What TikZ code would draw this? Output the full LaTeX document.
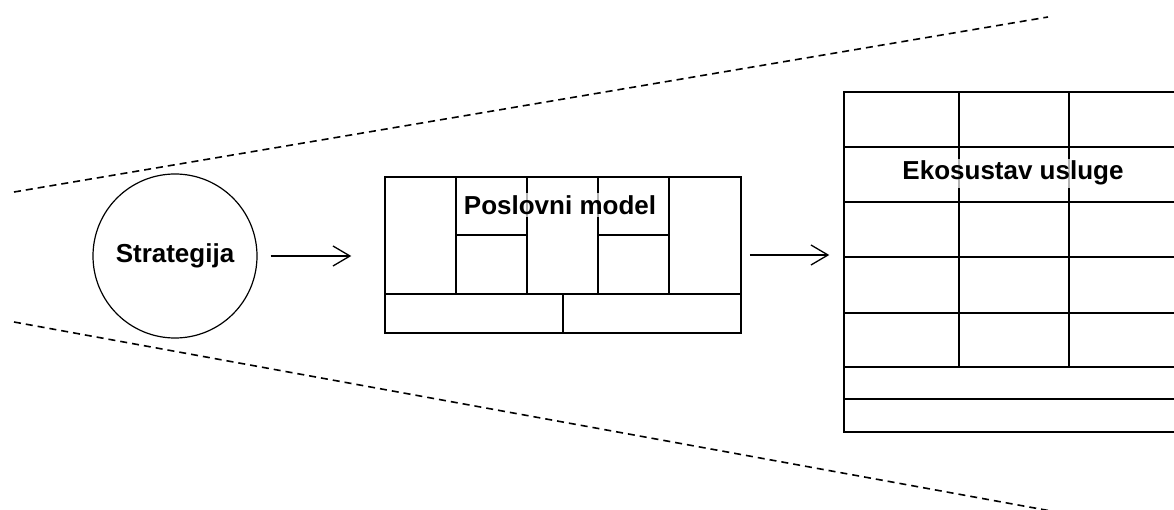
\documentclass[tikz,border=0pt]{standalone}
\usepackage{fontspec}
\setmainfont{Liberation Sans}
\usetikzlibrary{arrows.meta}

\tikzset{
  gridbox/.style={draw, rectangle, line width=1.5pt, inner sep=0pt},
  gridline/.style={line width=1.5pt},
  funnel/.style={line width=1.6pt, dash pattern=on 7pt off 5pt},
  boxtext/.style={font=\bfseries\fontsize{26}{30}\selectfont},
  textpatch/.style={fill=white, fill opacity=0.7, text opacity=1, inner sep=2pt},
}

\begin{document}
\begin{tikzpicture}[x=1pt, y=-1pt, >={Straight Barb[length=17pt, width=20pt]}]
        \useasboundingbox (0,0) rectangle (1174,510);
        \clip (0,0) rectangle (1174,510);

        % dashed funnel
        \draw[funnel] (14,192) -- (1048,17);
        \draw[funnel] (14,322) -- (1062,513);

        \node[circle, draw, line width=1.2pt, minimum size=164pt, inner sep=0pt, boxtext] (strat) at (175,256) {Strategija};

        % business model canvas
        \node[gridbox, minimum width=356pt, minimum height=156pt] (pm) at (563,255) {};
        \draw[gridline] (385,294) -- (741,294);
        \draw[gridline] (456,177) -- (456,294);
        \draw[gridline] (527,177) -- (527,294);
        \draw[gridline] (598,177) -- (598,294);
        \draw[gridline] (669,177) -- (669,294);
        \draw[gridline] (456,235) -- (527,235);
        \draw[gridline] (598,235) -- (669,235);
        \draw[gridline] (563,294) -- (563,333);
        \node[boxtext, textpatch] (pmtext) at (560,205) {Poslovni model};

        % service ecosystem
        \node[gridbox, minimum width=346pt, minimum height=340pt] (eco) at (1017,262) {};
        \foreach \y in {147,202,257,313,367,399}
          \draw[gridline] (844,\y) -- (1190,\y);
        \draw[gridline] (959,92) -- (959,367);
        \draw[gridline] (1069,92) -- (1069,367);
        \node[boxtext, textpatch, anchor=base] (ecotext) at (1013,180) {Ekosustav usluge};

        \draw[->, line width=1.3pt, shorten <=13pt, shorten >=33pt] (strat.east) -- (strat.east -| pm.west);
        \draw[->, line width=1.3pt, shorten <=8pt, shorten >=14pt] (pm.east) -- (pm.east -| eco.west);

\end{tikzpicture}
\end{document}
